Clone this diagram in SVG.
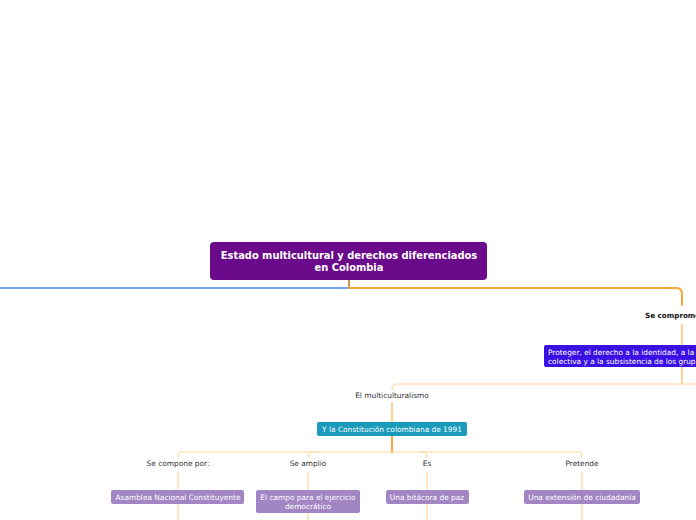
<svg xmlns="http://www.w3.org/2000/svg" width="696" height="520" viewBox="0 0 696 520">
<style>
.t{font-family:"DejaVu Sans",Verdana,sans-serif;}
.lbl{font-size:7.4px;fill:#333;text-anchor:middle;}
.nt{font-size:7.4px;fill:#fff;text-anchor:middle;}
.c{fill:none;stroke-linecap:round;}
.o1{stroke:#f7a535;stroke-width:2;}
.o2{stroke:#fbc36e;stroke-width:1.5;}
.o3{stroke:#fdd69a;stroke-width:1.2;}
</style>
<rect width="696" height="520" fill="#fff"/>
<g id="connectors">
<path class="c" d="M349 280 V288" stroke="#c99552" stroke-width="2"/>
<path class="c" d="M349 288 H-2" stroke="#4a88f5" stroke-width="1.6"/>
<path class="c o1" d="M349 288 H676 Q682 288 682 294 V305"/>
<path class="c o2" d="M682 325 V345"/>
<path class="c o2" d="M682 367 V384"/>
<path class="c o3" d="M698 384 H397 Q392 384 392 389 V390"/>
<path class="c o2" d="M392 403 V422"/>
<path class="c o1" d="M392 436 V452"/>
<path class="c o3" d="M392 452 H183 Q178 452 178 457"/>
<path class="c o3" d="M392 452 H577 Q582 452 582 457"/>
<path class="c o3" d="M313 452 Q308 452 308 457"/>
<path class="c o3" d="M422 452 Q427 452 427 457"/>
<path class="c o3" d="M178 472 V490"/>
<path class="c o3" d="M308 472 V490"/>
<path class="c o3" d="M427 472 V490"/>
<path class="c o3" d="M582 472 V490"/>
<path class="c o3" d="M178 504 V521"/>
<path class="c o3" d="M308 513 V521"/>
<path class="c o3" d="M427 504 V521"/>
<path class="c o3" d="M582 504 V521"/>
</g>
<g id="root">
<rect x="210" y="242" width="277" height="38" rx="4" fill="#6b0a8a"/>
<text class="t" x="349" y="259" font-size="9.9" font-weight="bold" fill="#fff" text-anchor="middle">Estado multicultural y derechos diferenciados</text>
<text class="t" x="349" y="271" font-size="9.9" font-weight="bold" fill="#fff" text-anchor="middle">en Colombia</text>
</g>
<g id="lbl-compromete">
<text class="t" x="645" y="318" font-size="7.2" font-weight="bold" fill="#111">Se comprome</text>
</g>
<g id="node-proteger">
<rect x="544" y="345" width="160" height="22" rx="2" fill="#3b10e3"/>
<text class="t" x="548" y="354.5" font-size="7.4" fill="#fff">Proteger, el derecho a la identidad, a la</text>
<text class="t" x="548" y="363.5" font-size="7.4" fill="#fff">colectiva y a la subsistencia de los grup</text>
</g>
<g id="lbl-multiculturalismo">
<text class="t lbl" x="392" y="398">El multiculturalismo</text>
</g>
<g id="node-constitucion">
<rect x="317" y="422" width="150" height="14" rx="2" fill="#1a9bbc"/>
<text class="t nt" x="392" y="432">Y la Constitución colombiana de 1991</text>
</g>
<g id="lbl-compone"><text class="t lbl" x="178" y="466">Se compone por:</text></g>
<g id="lbl-amplio"><text class="t lbl" x="308" y="466">Se amplio</text></g>
<g id="lbl-es"><text class="t lbl" x="427" y="466">Es</text></g>
<g id="lbl-pretende"><text class="t lbl" x="582" y="466">Pretende</text></g>
<g id="node-asamblea">
<rect x="111" y="490" width="133" height="14" rx="2" fill="#a285c3"/>
<text class="t nt" x="178" y="500">Asamblea Nacional Constituyente</text>
</g>
<g id="node-campo">
<rect x="256" y="490" width="104" height="23" rx="2" fill="#a285c3"/>
<text class="t nt" x="308" y="500">El campo para el ejercicio</text>
<text class="t nt" x="308" y="509">democrático</text>
</g>
<g id="node-bitacora">
<rect x="386" y="490" width="83" height="14" rx="2" fill="#a285c3"/>
<text class="t nt" x="427" y="500">Una bitácora de paz</text>
</g>
<g id="node-extension">
<rect x="524" y="490" width="116" height="14" rx="2" fill="#a285c3"/>
<text class="t nt" x="582" y="500">Una extensión de ciudadanía</text>
</g>
</svg>
